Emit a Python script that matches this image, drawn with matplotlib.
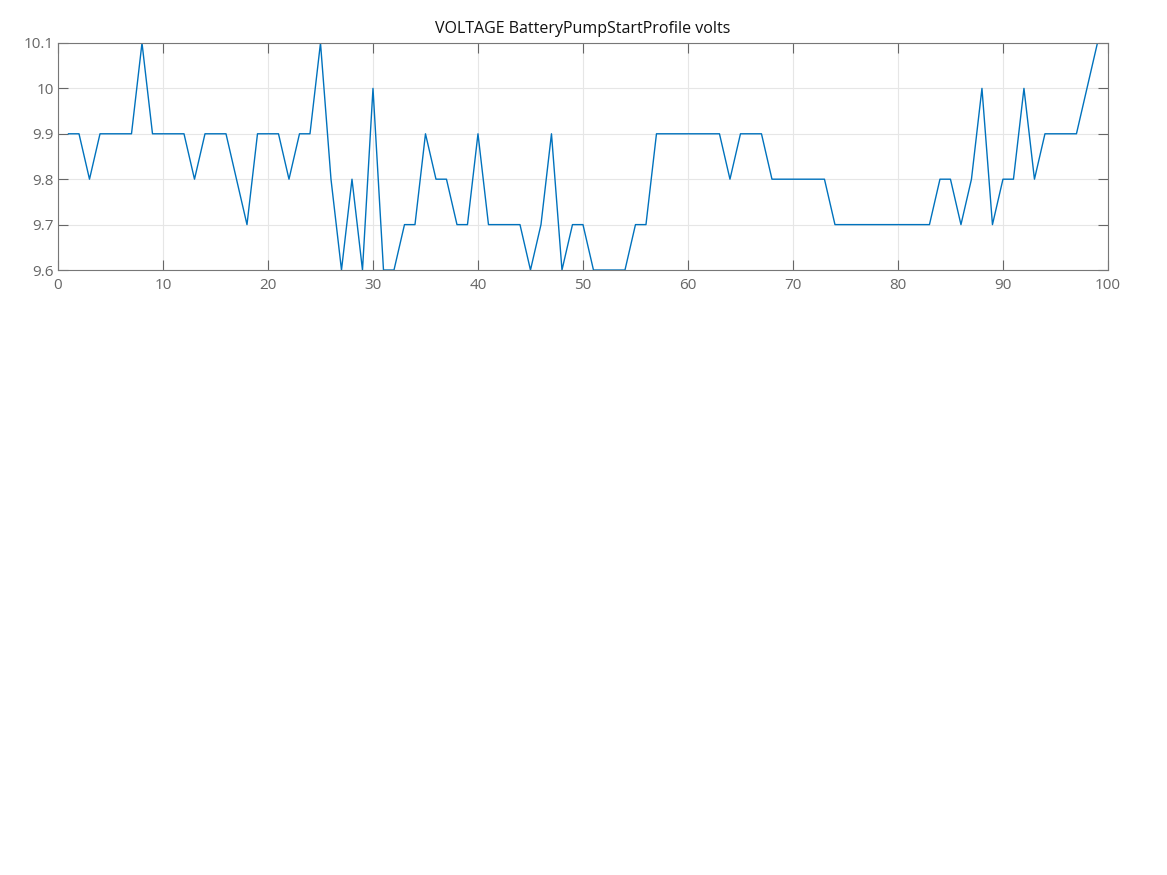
import numpy as np
import matplotlib.pyplot as plt
from matplotlib.ticker import FuncFormatter

# ── DATA ──────────────────────────────────────────────
sample = list(range(1, 100))
volts = [9.9, 9.9, 9.8, 9.9, 9.9, 9.9, 9.9, 10.1, 9.9, 9.9,
         9.9, 9.9, 9.8, 9.9, 9.9, 9.9, 9.8, 9.7, 9.9, 9.9,
         9.9, 9.8, 9.9, 9.9, 10.1, 9.8, 9.6, 9.8, 9.6, 10.0,
         9.6, 9.6, 9.7, 9.7, 9.9, 9.8, 9.8, 9.7, 9.7, 9.9,
         9.7, 9.7, 9.7, 9.7, 9.6, 9.7, 9.9, 9.6, 9.7, 9.7,
         9.6, 9.6, 9.6, 9.6, 9.7, 9.7, 9.9, 9.9, 9.9, 9.9,
         9.9, 9.9, 9.9, 9.8, 9.9, 9.9, 9.9, 9.8, 9.8, 9.8,
         9.8, 9.8, 9.8, 9.7, 9.7, 9.7, 9.7, 9.7, 9.7, 9.7,
         9.7, 9.7, 9.7, 9.8, 9.8, 9.7, 9.8, 10.0, 9.7, 9.8,
         9.8, 10.0, 9.8, 9.9, 9.9, 9.9, 9.9, 10.0, 10.1]
x_ticks = list(range(0, 101, 10))
y_ticks = [9.6, 9.7, 9.8, 9.9, 10.0, 10.1]

plt.rcParams['font.family'] = ['Open Sans', 'DejaVu Sans']

fig = plt.figure(figsize=(11.67, 8.75), dpi=100)
ax = fig.add_axes([0.0497, 0.6914, 0.8997, 0.2595])

ax.plot(sample, volts, color='#0072BD', linewidth=1.0)

ax.set_xlim(0, 100)
ax.set_ylim(9.6, 10.1)
ax.set_xticks(x_ticks)
ax.set_yticks(y_ticks)
ax.yaxis.set_major_formatter(FuncFormatter(lambda v, p: f'{v:g}'))

ax.grid(True, color='#e6e6e6', linewidth=0.8)
ax.set_axisbelow(True)
ax.tick_params(direction='in', length=7, width=0.8, color='#666666',
               labelcolor='#666666', labelsize=11, top=True, right=True)
ax.tick_params(axis='x', pad=6)
ax.tick_params(axis='y', pad=3)
for s in ax.spines.values():
    s.set_color('#777777')
    s.set_linewidth(0.8)

ax.set_title('VOLTAGE BatteryPumpStartProfile volts', fontsize=11.5, color='#111111', pad=7)

plt.savefig('out.png', dpi=100)
